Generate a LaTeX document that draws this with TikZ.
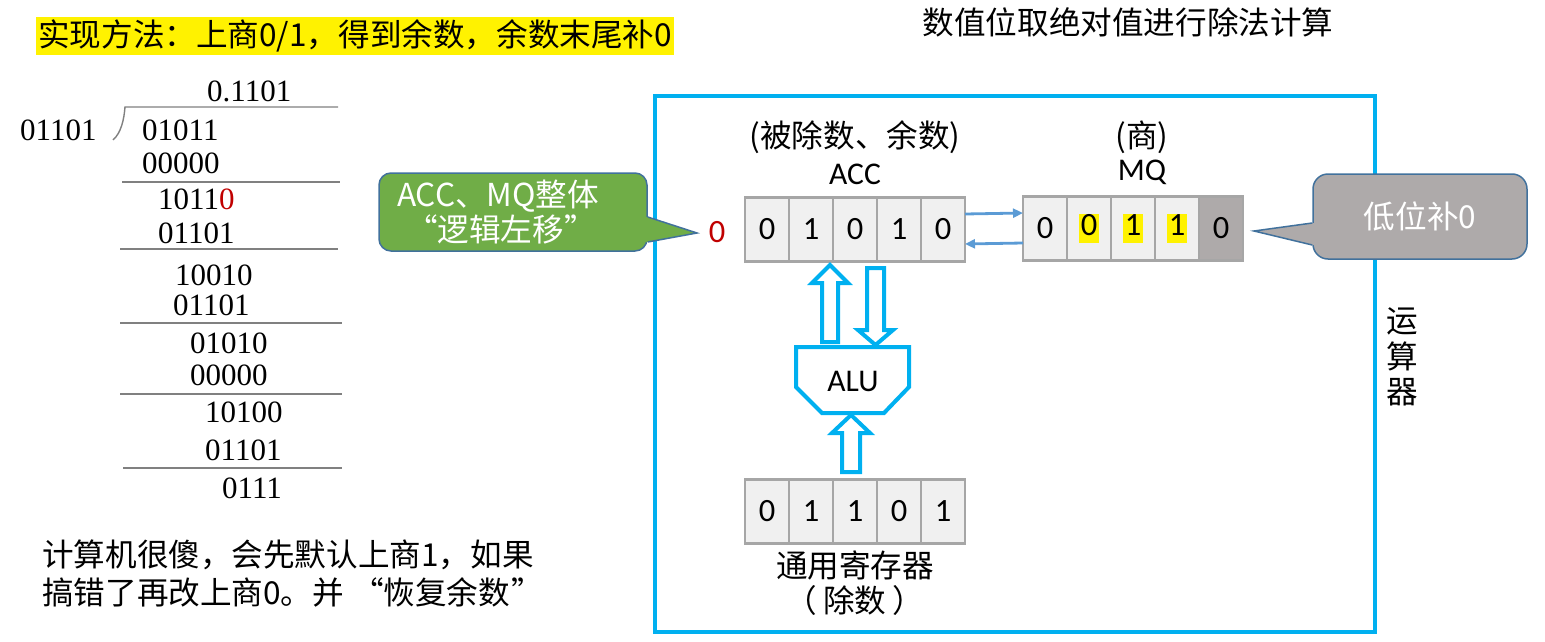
\documentclass[tikz,border=0pt]{standalone}
\usepackage{fontspec}
\setmainfont{Carlito}
\newfontfamily\hei{Noto Sans CJK SC}
\newfontfamily\tnr{Liberation Serif}
\newfontfamily\song{Noto Sans CJK SC}
\usetikzlibrary{arrows.meta}

\definecolor{cyanline}{HTML}{00B0F0}
\definecolor{linkblue}{HTML}{5B9BD5}
\definecolor{gfill}{HTML}{70AD47}
\definecolor{callborder}{HTML}{41719C}
\definecolor{greyfill}{HTML}{AEAAAA}
\definecolor{cellfill}{HTML}{F0F0F0}
\definecolor{cellline}{HTML}{A6A6A6}
\definecolor{rulegrey}{HTML}{808080}
\definecolor{darkred}{HTML}{C00000}

\newcommand\bigsz{\fontsize{31.6}{37}\selectfont}
\newcommand\hlt[1]{{\setlength{\fboxsep}{0pt}\colorbox{yellow}{\kern1.5pt\rule[-0.24em]{0pt}{0.8em}#1\kern1.5pt}}}

\tikzset{
  txt/.style={inner sep=0pt, font=\bigsz},
  heitxt/.style={inner sep=0pt, font=\bigsz\hei},
  songtxt/.style={inner sep=0pt, font=\bigsz\song},
  digits/.style={inner sep=0pt, anchor=west, font=\fontsize{31}{36}\selectfont\tnr},
  divrule/.style={draw=rulegrey, line width=1.4pt},
  cell/.style={draw=cellline, fill=cellfill, line width=2.4pt, minimum width=44pt,
    minimum height=64pt, inner sep=0pt, outer sep=0pt, font=\fontsize{32.5}{37}\selectfont},
  regarrow/.style={draw=linkblue, line width=2.8pt, -{Triangle[length=10pt,width=9pt]}},
  hollow/.style={draw=cyanline, line width=4pt, fill=white, line join=miter},
  gbox/.style={draw=callborder, line width=1.5pt, fill=gfill, rounded corners=12pt,
    text=white, text width=232pt, inner xsep=18pt, inner ysep=0pt,
    minimum height=78pt, align=left, font=\fontsize{31.6}{35}\selectfont\hei},
  ybox/.style={draw=callborder, line width=1.5pt, fill=greyfill, rounded corners=15pt,
    text=white, minimum width=214pt, minimum height=85pt, inner sep=0pt,
    font=\bigsz\hei},
  callline/.style={draw=callborder, line width=1.5pt, line join=miter},
}

\begin{document}
\begin{tikzpicture}[x=1pt,y=-1pt]
\useasboundingbox (0,0) rectangle (1545,642);

% headings
\node[heitxt] (title) at (1128,22) {数值位取绝对值进行除法计算};
\node[fill=yellow, inner xsep=2pt, inner ysep=3pt, anchor=west, font=\bigsz\hei]
  (method) at (36,36) {实现方法：上商0/1，得到余数，余数末尾补0};

% long division worked by hand
\node[digits] (q)   at (207,91)  {0.1101};
\node[digits] (dvs) at (20,130)  {01101};
\node[digits] (r0)  at (142,130) {01011};
\node[digits] (s0)  at (142,163) {00000};
\node[digits] (r1)  at (158,199) {1011\textcolor{darkred}{0}};
\node[digits] (s1)  at (158,233) {01101};
\node[digits] (r2)  at (175,275) {10010};
\node[digits] (s2)  at (173,305) {01101};
\node[digits] (r3)  at (190,343) {01010};
\node[digits] (s3)  at (190,375) {00000};
\node[digits] (r4)  at (205,412) {10100};
\node[digits] (s4)  at (205,450) {01101};
\node[digits] (r5)  at (222,488) {0111};
\draw[divrule] (113,140) .. controls (121,133) and (124,120) .. (125,107) -- (338,107);
\draw[divrule] (122,182) -- (340,182);
\draw[divrule] (120,249) -- (338,249);
\draw[divrule] (120,323) -- (342,323);
\draw[divrule] (120,394) -- (342,394);
\draw[divrule] (123,468) -- (342,468);

\node[heitxt, anchor=west, align=left, font=\fontsize{31.6}{38}\selectfont\hei]
  (remark) at (42,574) {计算机很傻，会先默认上商1，如果\\搞错了再改上商0。并\hspace{8pt}“恢复余数\hspace{1pt}”};

% arithmetic unit frame
\draw[draw=cyanline, line width=4.5pt] (655,96) rectangle (1375,632);
\node[songtxt, align=center, font=\fontsize{31.6}{35.5}\selectfont\song]
  (unit) at (1402,357) {运\\算\\器};

% ACC register
\node[heitxt] (acclab) at (855,137) {(被除数、余数)};
\node[txt] (accname) at (855,174) {ACC};
\foreach \v [count=\i] in {0,1,0,1,0}
  \node[cell] (acc\i) at ({767+44*(\i-1)},229.5) {\v};
\node[txt, text=darkred, font=\fontsize{32.5}{37}\selectfont] (lead) at (717,232) {0};

% MQ register
\node[heitxt] (mqlab) at (1142,137) {(商)};
\node[txt] (mqname) at (1142,172) {MQ};
\node[cell] (mq1) at (1045,228.5) {0};
\node[cell] (mq2) at (1089,228.5) {\hlt{0}};
\node[cell] (mq3) at (1133,228.5) {\hlt{1}};
\node[cell] (mq4) at (1177,228.5) {\hlt{1}};
\node[cell, fill=greyfill] (mq5) at (1221,228.5) {0};

\draw[regarrow] ([shift={(0,-15.5)}]acc5.east) -- ([shift={(0,-15.5)}]mq1.west);
\draw[regarrow] ([shift={(0,14.5)}]mq1.west) -- ([shift={(0,14.5)}]acc5.east);

% divisor register
\foreach \v [count=\i] in {0,1,1,0,1}
  \node[cell] (gpr\i) at ({767+44*(\i-1)},511.5) {\v};
\node[songtxt] (gprlab) at (855,565) {通用寄存器};
\node[songtxt] (gprsub) at (855,600) {（\hspace{6pt}除数\hspace{6pt}）};

% ALU and its data paths
\draw[hollow] (796,347) -- (909,347) -- (909,387) -- (884,413) -- (822,413) -- (796,387) -- cycle;
\node[txt] (alu) at (853,381) {ALU};
\draw[hollow] (830,265) -- (848,283) -- (838,283) -- (838,342) -- (822,342) -- (822,283) -- (812,283) -- cycle;
\draw[hollow] (875.5,345) -- (893,330) -- (884,330) -- (884,268) -- (867,268) -- (867,330) -- (858,330) -- cycle;
\draw[hollow] (851,415) -- (870,433) -- (860,433) -- (860,472) -- (842,472) -- (842,433) -- (832,433) -- cycle;

% call-outs
\node[gbox] (shiftnote) at (513,212) {ACC、MQ整体\\\hspace*{9pt}“逻辑左移\hspace{1pt}”};
\coordinate (gtip) at (697,233);
\fill[gfill] ([shift={(-3,5)}]shiftnote.east) -- ([shift={(0,5)}]shiftnote.east) -- (gtip)
  -- ([shift={(0,30)}]shiftnote.east) -- ([shift={(-3,30)}]shiftnote.east) -- cycle;
\draw[callline] ([shift={(0,5)}]shiftnote.east) -- (gtip) -- ([shift={(0,30)}]shiftnote.east);

\node[ybox] (fillnote) at (1420,216.5) {低位补0};
\coordinate (ytip) at (1254,231);
\fill[greyfill] ([shift={(3,6.5)}]fillnote.west) -- ([shift={(0,6.5)}]fillnote.west) -- (ytip)
  -- ([shift={(0,28.5)}]fillnote.west) -- ([shift={(3,28.5)}]fillnote.west) -- cycle;
\draw[callline] ([shift={(0,6.5)}]fillnote.west) -- (ytip) -- ([shift={(0,28.5)}]fillnote.west);
\end{tikzpicture}
\end{document}
